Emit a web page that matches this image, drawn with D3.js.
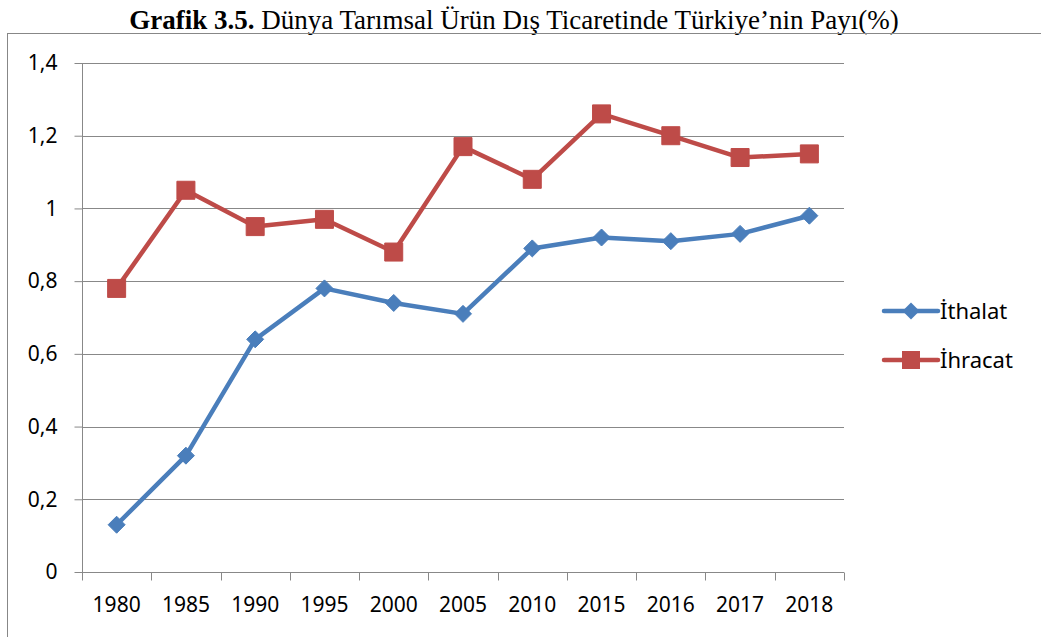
<!DOCTYPE html>
<html>
<head>
<meta charset="utf-8">
<script src="https://cdn.jsdelivr.net/npm/d3@7"></script>
<style>
  body { margin: 0; background: #fff; }
  svg { display: block; }
</style>
</head>
<body>
<script>
const years = ["1980", "1985", "1990", "1995", "2000", "2005", "2010", "2015", "2016", "2017", "2018"]
const ithalat = [0.13, 0.32, 0.64, 0.78, 0.74, 0.71, 0.89, 0.92, 0.91, 0.93, 0.98]
const ihracat = [0.78, 1.05, 0.95, 0.97, 0.88, 1.17, 1.08, 1.26, 1.2, 1.14, 1.15]
const yTicks = [0, 0.2, 0.4, 0.6, 0.8, 1, 1.2, 1.4]
const seriesNames = ["İthalat", "İhracat"]
const colors = ["#4a7ebb", "#be4b48"]

const w = 1041
const h = 637
const plotLeft = 82, plotRight = 844, plotTop = 63, plotBottom = 572
const font = "'Noto Sans', 'Open Sans', sans-serif"

const svg = d3.select("body").append("svg").attr("width", w).attr("height", h)

// title
const title = svg.append("text")
  .attr("x", 514)
  .attr("y", 29)
  .attr("text-anchor", "middle")
  .attr("font-family", "'Liberation Serif', 'Times New Roman', serif")
  .attr("font-size", "27px")
title.append("tspan").attr("font-weight", "bold").text("Grafik 3.5.")
title.append("tspan").text(" Dünya Tarımsal Ürün Dış Ticaretinde Türkiye’nin Payı(%)")

// chart border
svg.append("rect")
  .attr("x", 7.5).attr("y", 33.5)
  .attr("width", w).attr("height", h)
  .attr("fill", "none")
  .attr("stroke", "#878787")

const xScale = d3.scaleBand().domain(years).range([plotLeft, plotRight])
const yScale = d3.scaleLinear().domain([0, 1.4]).range([plotBottom, plotTop])

// grid
svg.append("g")
  .selectAll("line")
  .data(yTicks.filter((d) => d > 0))
  .enter()
  .append("line")
  .attr("x1", plotLeft)
  .attr("x2", plotRight)
  .attr("y1", (d) => Math.round(yScale(d)) + 0.5)
  .attr("y2", (d) => Math.round(yScale(d)) + 0.5)
  .attr("stroke", "#888")

const fmt = (d) => String(d).replace(".", ",")

const yAxis = svg.append("g")
  .attr("transform", `translate(${plotLeft + 0.5},0)`)
  .call(d3.axisLeft(yScale).tickValues(yTicks).tickFormat(fmt).tickSize(8).tickPadding(17))
yAxis.select(".domain").attr("stroke", "#888").attr("d", `M0,${plotTop}V${plotBottom}`)
yAxis.selectAll(".tick line").attr("stroke", "#888")
yAxis.selectAll("text").attr("font-family", font).attr("font-size", "21px").attr("fill", "#000")

const xAxis = svg.append("g")
  .attr("transform", `translate(0,${plotBottom + 0.5})`)
  .call(d3.axisBottom(xScale).tickSize(0).tickPadding(25))
xAxis.select(".domain").attr("stroke", "#888").attr("d", `M${plotLeft},0H${plotRight}`)
xAxis.selectAll("text").attr("font-family", font).attr("font-size", "21px").attr("fill", "#000")
  .attr("dy", "0.71em")

// category ticks at band boundaries
xAxis.selectAll(".bound")
  .data(years.concat(["end"]))
  .enter()
  .append("line")
  .attr("x1", (d, i) => Math.round(plotLeft + i * xScale.step()) + 0.5)
  .attr("x2", (d, i) => Math.round(plotLeft + i * xScale.step()) + 0.5)
  .attr("y1", 0)
  .attr("y2", 8)
  .attr("stroke", "#888")

const cx = (d, i) => xScale(years[i]) + xScale.bandwidth() / 2
const line = d3.line().x(cx).y((d) => yScale(d))

const seriesData = [ithalat, ihracat]
const markers = ["M0,-8.5L8.5,0L0,8.5L-8.5,0Z", "M-9,-9H9V9H-9Z"]

seriesData.forEach((vals, s) => {
  svg.append("path")
    .datum(vals)
    .attr("d", line)
    .attr("fill", "none")
    .attr("stroke", colors[s])
    .attr("stroke-width", 4.5)
    .attr("stroke-linejoin", "round")

  svg.append("g")
    .selectAll("path")
    .data(vals)
    .enter()
    .append("path")
    .attr("transform", (d, i) => `translate(${cx(d, i)},${yScale(d)})`)
    .attr("d", markers[s])
    .attr("fill", colors[s])
    .attr("stroke", colors[s])
    .attr("stroke-width", 1)
})

// legend
const legend = svg.append("g")
seriesNames.forEach((name, s) => {
  const ly = 311 + s * 49
  legend.append("line")
    .attr("x1", 884).attr("x2", 938)
    .attr("y1", ly).attr("y2", ly)
    .attr("stroke", colors[s])
    .attr("stroke-width", 4.5)
    .attr("stroke-linecap", "round")
  legend.append("path")
    .attr("transform", `translate(911,${ly})`)
    .attr("d", markers[s])
    .attr("fill", colors[s])
  legend.append("text")
    .attr("x", 940)
    .attr("y", ly)
    .attr("dy", "0.35em")
    .attr("font-family", font)
    .attr("font-size", "22px")
    .text(name)
})
</script>
</body>
</html>
